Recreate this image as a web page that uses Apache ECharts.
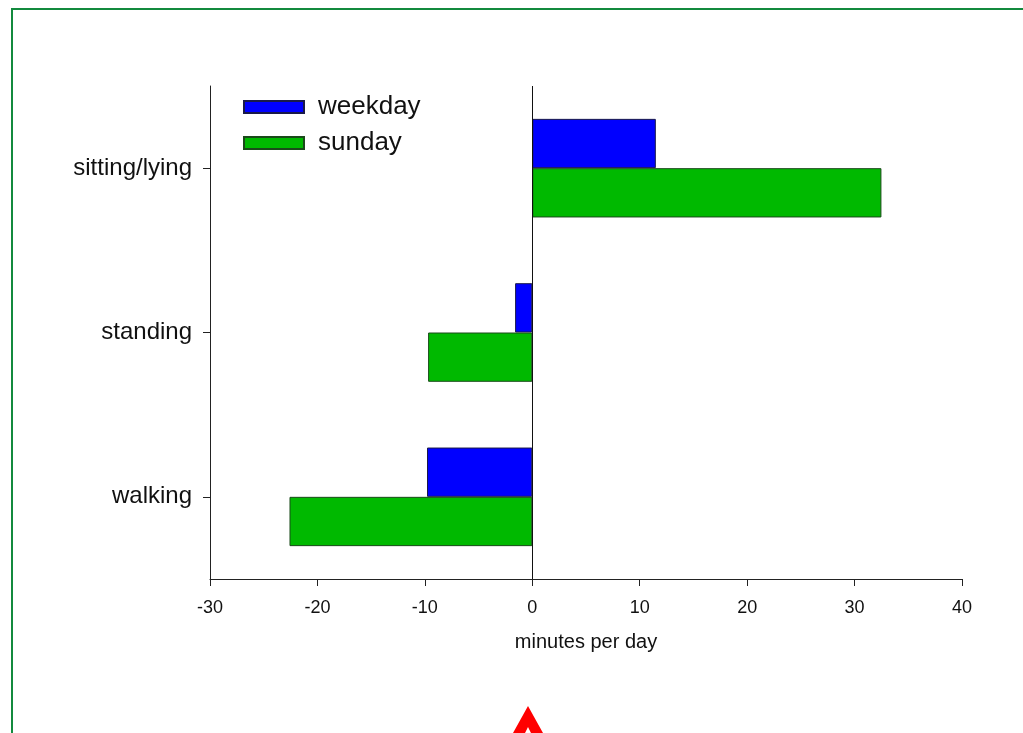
<!DOCTYPE html>
<html>
<head>
<meta charset="utf-8">
<script src="https://cdn.jsdelivr.net/npm/echarts@6/dist/echarts.min.js"></script>
<style>html,body{margin:0;padding:0;background:#fff;}#c{width:1023px;height:733px;}</style>
</head>
<body>
<div id="c"></div>
<script>
const categories = ['sitting/lying', 'standing', 'walking'];
const weekday = [11.5, -1.6, -9.8];
const sunday = [32.5, -9.7, -22.6];
const xTicks = { min: -30, max: 40, interval: 10 };

const chart = echarts.init(document.getElementById('c'));
const font = 'Liberation Sans, Arial, sans-serif';
chart.setOption({
  animation: false,
  backgroundColor: '#ffffff',
  grid: { left: 210, right: 61, top: 86, bottom: 154, containLabel: false },
  legend: {
    orient: 'vertical', left: 238, top: 89,
    itemWidth: 60, itemHeight: 12, itemGap: 10,
    icon: 'rect',
    textStyle: { fontFamily: font, fontSize: 26, color: '#111', padding: [0, 0, 0, 9] },
    data: ['weekday', 'sunday']
  },
  xAxis: {
    type: 'value', min: xTicks.min, max: xTicks.max, interval: xTicks.interval,
    name: 'minutes per day', nameLocation: 'middle', nameGap: 53,
    nameTextStyle: { fontFamily: font, fontSize: 20, color: '#111' },
    axisLine: { show: true, onZero: false, lineStyle: { color: '#222', width: 1 } },
    axisTick: { show: true, length: 7, inside: false, lineStyle: { color: '#222' } },
    axisLabel: { fontFamily: font, fontSize: 18, color: '#111', margin: 20 },
    splitLine: { show: false }
  },
  yAxis: {
    type: 'category', data: categories, inverse: true,
    axisLine: { show: true, onZero: false, lineStyle: { color: '#222', width: 1 } },
    axisTick: { show: true, alignWithLabel: true, length: 7, lineStyle: { color: '#222' } },
    axisLabel: { fontFamily: font, fontSize: 24, color: '#111', margin: 18 },
    splitLine: { show: false }
  },
  series: [
    {
      name: 'weekday', type: 'bar', data: weekday,
      barCategoryGap: '40%', barGap: '0%',
      itemStyle: { color: '#0000ff', borderColor: '#1a1a4a', borderWidth: 1 },
      markLine: {
        silent: true, symbol: 'none', label: { show: false },
        lineStyle: { color: '#111', type: 'solid', width: 1 },
        data: [{ xAxis: 0 }]
      }
    },
    {
      name: 'sunday', type: 'bar', data: sunday,
      barCategoryGap: '40%', barGap: '0%',
      itemStyle: { color: '#00b900', borderColor: '#1a4a1a', borderWidth: 1 }
    }
  ],
  graphic: [
    { type: 'rect', shape: { x: 12, y: 9, width: 1100, height: 800 },
      style: { fill: 'none', stroke: '#138a3e', lineWidth: 2 }, silent: true },
    { type: 'polygon',
      shape: { points: [[528, 706], [543, 733], [531, 733], [528, 727], [525, 733], [513, 733]] },
      style: { fill: '#ff0000' }, silent: true }
  ]
});
</script>
</body>
</html>
